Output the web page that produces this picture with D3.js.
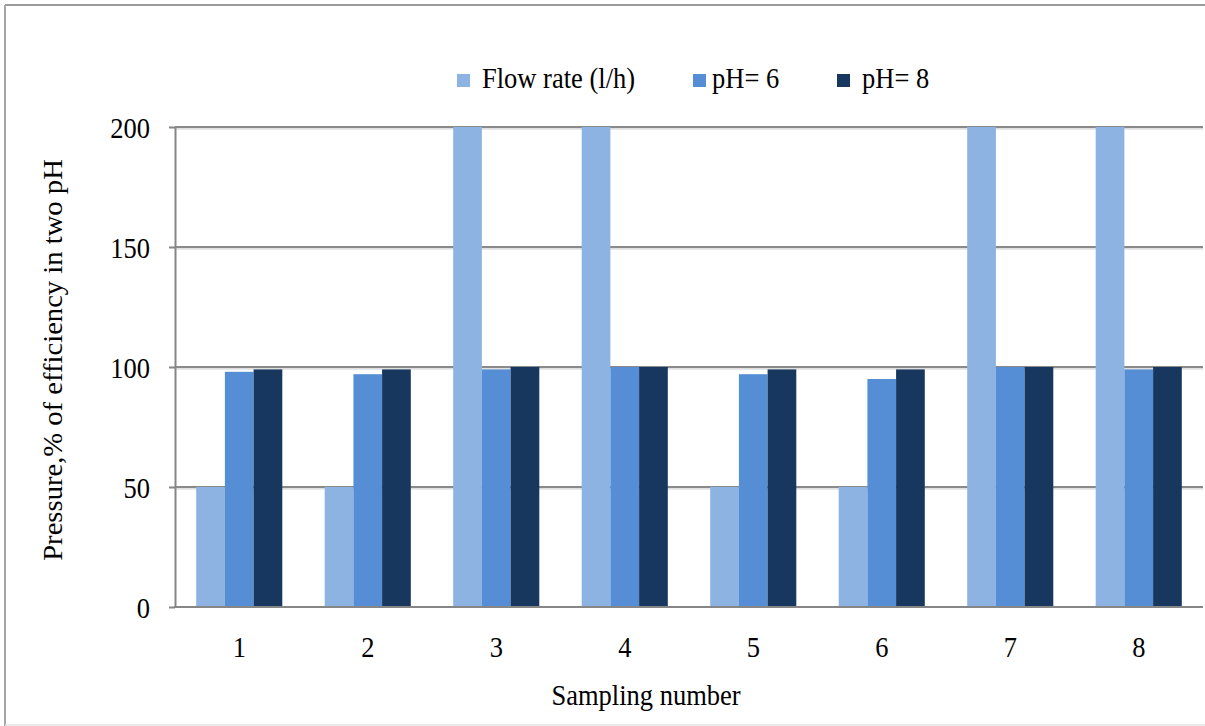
<!DOCTYPE html>
<html>
<head>
<meta charset="utf-8">
<script src="https://cdn.jsdelivr.net/npm/d3@7"></script>
<style>
  html, body { margin: 0; padding: 0; background: #fff; }
  svg { display: block; }
</style>
</head>
<body>
<svg id="chart" width="1205" height="726"></svg>
<script>
// Sampling runs and measured series
const samples = ["1", "2", "3", "4", "5", "6", "7", "8"];
const seriesNames = ["Flow rate (l/h)", "pH= 6", "pH= 8"];
const flowRate = [50, 50, 200, 200, 50, 50, 200, 200];
const ph6 = [98, 97, 99, 100, 97, 95, 100, 99];
const ph8 = [99, 99, 100, 100, 99, 99, 100, 100];
const yTicks = [0, 50, 100, 150, 200];
const seriesColors = ["#8db3e2", "#558ed5", "#17375e"];

const seriesValues = [flowRate, ph6, ph8];
const rows = samples.map((s, i) => ({
  sample: s,
  values: seriesNames.map((name, k) => ({ name, value: seriesValues[k][i] }))
}));

const svg = d3.select("#chart");
const plotLeft = 175, plotRight = 1203, plotTop = 127, plotBottom = 607;
const textScale = "scale(1,1.08)";
const fontSize = "26.5px";
const fontFamily = "'Liberation Serif', 'Times New Roman', serif";

function styleText(sel) {
  return sel.style("font-family", fontFamily).style("font-size", fontSize).style("fill", "#000");
}

// outer frame
svg.append("line").attr("x1", 5).attr("x2", 1205).attr("y1", 5).attr("y2", 5)
  .attr("stroke", "#9a9a9a").attr("stroke-width", 2);
svg.append("line").attr("x1", 5).attr("x2", 5).attr("y1", 5).attr("y2", 726)
  .attr("stroke", "#a6a6a6").attr("stroke-width", 2);
svg.append("line").attr("x1", 5).attr("x2", 1205).attr("y1", 725).attr("y2", 725)
  .attr("stroke", "#e2e2e2").attr("stroke-width", 1.5);

const x = d3.scaleBand().domain(samples).range([plotLeft, plotRight])
  .paddingInner(0.33).paddingOuter(0.165);
const xs = d3.scaleBand().domain(seriesNames).range([0, x.bandwidth()]);
const y = d3.scaleLinear().domain([0, 200]).range([plotBottom, plotTop]);
const color = d3.scaleOrdinal().domain(seriesNames).range(seriesColors);

// gridlines
const grid = svg.append("g");
grid.selectAll("line.shade").data(yTicks.slice(1)).join("line")
  .attr("class", "shade")
  .attr("x1", plotLeft).attr("x2", plotRight)
  .attr("y1", d => y(d) + 1.8).attr("y2", d => y(d) + 1.8)
  .attr("stroke", "#d4d4d4").attr("stroke-width", 1.2);
grid.selectAll("line.main").data(yTicks.slice(1)).join("line")
  .attr("class", "main")
  .attr("x1", plotLeft).attr("x2", plotRight)
  .attr("y1", d => y(d)).attr("y2", d => y(d))
  .attr("stroke", "#8a8a8a").attr("stroke-width", 2);

// bars
svg.append("g").selectAll("g").data(rows).join("g")
  .attr("transform", d => `translate(${x(d.sample)},0)`)
  .selectAll("rect").data(d => d.values).join("rect")
  .attr("x", d => xs(d.name))
  .attr("width", xs.bandwidth())
  .attr("y", d => y(d.value))
  .attr("height", d => y(0) - y(d.value))
  .attr("fill", d => color(d.name));

// y axis
const yAxis = svg.append("g").attr("transform", `translate(${plotLeft},0)`)
  .call(d3.axisLeft(y).tickValues(yTicks).tickSize(6).tickPadding(19).tickSizeOuter(0));
yAxis.attr("font-family", null).attr("font-size", null);
yAxis.select(".domain").attr("stroke", "#868686").attr("stroke-width", 2);
yAxis.selectAll(".tick line").attr("stroke", "#868686").attr("stroke-width", 2);
styleText(yAxis.selectAll(".tick text"))
  .attr("dy", "0.37em").attr("transform", textScale);

// x axis
const xAxis = svg.append("g").attr("transform", `translate(0,${plotBottom})`)
  .call(d3.axisBottom(x).tickSize(0).tickPadding(27.5).tickSizeOuter(0));
xAxis.attr("font-family", null).attr("font-size", null);
xAxis.select(".domain").remove();
styleText(xAxis.selectAll(".tick text")).attr("transform", textScale);
svg.append("line").attr("x1", plotLeft - 1).attr("x2", plotRight).attr("y1", plotBottom).attr("y2", plotBottom)
  .attr("stroke", "#868686").attr("stroke-width", 2);

// axis titles
styleText(svg.append("g").attr("transform", `translate(646,705) ${textScale}`)
  .append("text").attr("text-anchor", "middle"))
  .text("Sampling number");
styleText(svg.append("g").attr("transform", `translate(62,360) rotate(-90) scale(1.08,1)`)
  .append("text").attr("text-anchor", "middle"))
  .text("Pressure,% of efficiency in two pH");

// legend
const legendPos = [{ sx: 457, tx: 482 }, { sx: 693, tx: 712 }, { sx: 837, tx: 862 }];
const legend = svg.append("g").selectAll("g").data(seriesNames).join("g");
legend.append("rect")
  .attr("x", (d, i) => legendPos[i].sx).attr("y", 74)
  .attr("width", 13).attr("height", 13)
  .attr("fill", d => color(d));
styleText(legend.append("g")
  .attr("transform", (d, i) => `translate(${legendPos[i].tx},88) ${textScale}`)
  .append("text"))
  .text(d => d);
</script>
</body>
</html>
